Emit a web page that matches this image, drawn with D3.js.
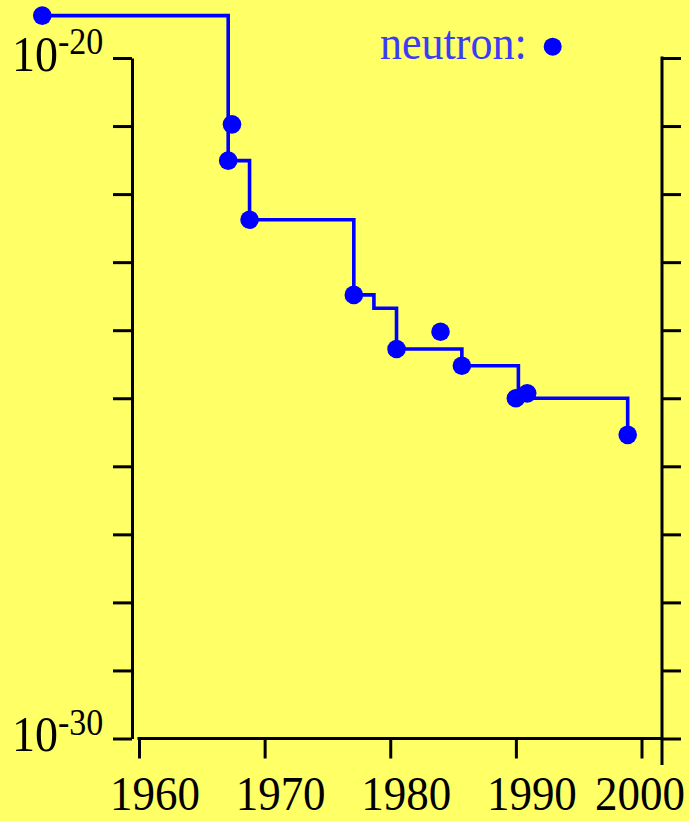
<!DOCTYPE html>
<html>
<head>
<meta charset="utf-8">
<script src="https://cdn.jsdelivr.net/npm/d3@7"></script>
<style>
  html, body { margin: 0; padding: 0; background: #ffff66; }
  svg { display: block; }
  text { font-family: "Liberation Serif", "Times New Roman", serif; }
</style>
</head>
<body>
<svg id="chart" width="689" height="821"></svg>
<script>
// Neutron electric dipole moment: measured upper limits (e·cm) by year
const pointYears  = [1952.3, 1967.1, 1967.4, 1968.8, 1977.1, 1980.5, 1984.0, 1985.7, 1990.0, 1990.9, 1998.9];
const pointValues = [4.2e-20, 3.1e-22, 1.06e-21, 4.2e-23, 3.3e-24, 5.3e-25, 9.5e-25, 3.0e-25, 1.0e-25, 1.18e-25, 2.9e-26];

// Best limit in force over time (step envelope)
const limitYears  = [1952.3, 1967.1, 1968.8, 1977.1, 1978.7, 1980.5, 1985.7, 1990.2, 1998.9];
const limitValues = [4.2e-20, 3.1e-22, 4.2e-23, 3.3e-24, 2.1e-24, 5.3e-25, 3.0e-25, 1.0e-25, 2.9e-26];

const xTickYears = [1960, 1970, 1980, 1990, 2000];
const yDecades = d3.range(-30, -19).map(e => Math.pow(10, e));
const yLabelExps = ["-20", "-30"];
const legendLabel = "neutron:";

const svg = d3.select("#chart");
const W = 689, H = 821;
const TEXT_STRETCH = 1.1; // the serif lettering is drawn slightly tall
svg.append("rect").attr("width", W).attr("height", H).attr("fill", "#ffff66");

const x = d3.scaleLinear().domain([1960, 2000]).range([139, 641.5]);
const y = d3.scaleLog().domain([1e-30, 1e-20]).range([738.5, 58]);

const leftX = 132, rightX = 662;
const axisColor = "#000";

// Left axis
const gl = svg.append("g").attr("transform", `translate(${leftX},0)`)
  .call(d3.axisLeft(y).tickValues(yDecades).tickFormat("").tickSize(19).tickSizeOuter(0));
gl.select(".domain").attr("stroke-width", 3).attr("stroke", axisColor);
gl.selectAll(".tick line").attr("stroke-width", 3).attr("stroke", axisColor);

// Right axis (frame extends below the x axis)
const gr = svg.append("g").attr("transform", `translate(${rightX},0)`)
  .call(d3.axisRight(y).tickValues(yDecades).tickFormat("").tickSize(19).tickSizeOuter(0));
gr.select(".domain").attr("d", `M0,${y(1e-20) - 1.5}V765`).attr("stroke-width", 3).attr("stroke", axisColor);
gr.selectAll(".tick line").attr("stroke-width", 3).attr("stroke", axisColor);

// Bottom axis
const gb = svg.append("g").attr("transform", `translate(0,${y(1e-30)})`)
  .call(d3.axisBottom(x).tickValues(xTickYears).tickFormat("").tickSize(20).tickSizeOuter(0));
gb.select(".domain").attr("d", `M${x(1960) - 1.5},0H${rightX}`).attr("stroke-width", 3).attr("stroke", axisColor);
gb.selectAll(".tick line").attr("stroke-width", 3).attr("stroke", axisColor);

// Year labels, kept inside the right edge
gb.selectAll(".yr").data(xTickYears).join("text")
  .attr("class", "yr")
  .attr("font-size", 45)
  .attr("fill", "#000")
  .attr("text-anchor", "middle")
  .text(d => d)
  .attr("transform", function (d) {
    const w = this.getComputedTextLength();
    const cx = Math.min(x(d) + 16, 685 - w / 2);
    return `translate(${cx},${810 - y(1e-30)}) scale(1,${TEXT_STRETCH})`;
  });

// Power-of-ten labels
[{ v: 1e-20, e: yLabelExps[0] }, { v: 1e-30, e: yLabelExps[1] }].forEach(l => {
  const t = svg.append("text")
    .attr("transform", `translate(12,${y(l.v) + 12.5}) scale(1,${TEXT_STRETCH})`)
    .attr("fill", "#000");
  t.append("tspan").attr("font-size", 46).text("10");
  t.append("tspan").attr("font-size", 34).attr("dy", -15).text(l.e);
});

// Step envelope of the best limit
const stepData = limitYears.map((yr, i) => [yr, limitValues[i]]);
svg.append("path")
  .datum(stepData)
  .attr("fill", "none")
  .attr("stroke", "#0000ff")
  .attr("stroke-width", 3.6)
  .attr("d", d3.line().x(d => x(d[0])).y(d => y(d[1])).curve(d3.curveStepAfter));

// Measurements
svg.append("g").selectAll("circle")
  .data(pointYears.map((yr, i) => [yr, pointValues[i]]))
  .join("circle")
  .attr("cx", d => x(d[0]))
  .attr("cy", d => y(d[1]))
  .attr("r", 9.3)
  .attr("fill", "#0000ff");

// Legend
svg.append("text")
  .attr("transform", `translate(380,59) scale(1,${TEXT_STRETCH})`)
  .attr("font-size", 44)
  .attr("fill", "#3c3cf5")
  .text(legendLabel);
svg.append("circle").attr("cx", 552.7).attr("cy", 46.7).attr("r", 9).attr("fill", "#0000ff");
</script>
</body>
</html>
